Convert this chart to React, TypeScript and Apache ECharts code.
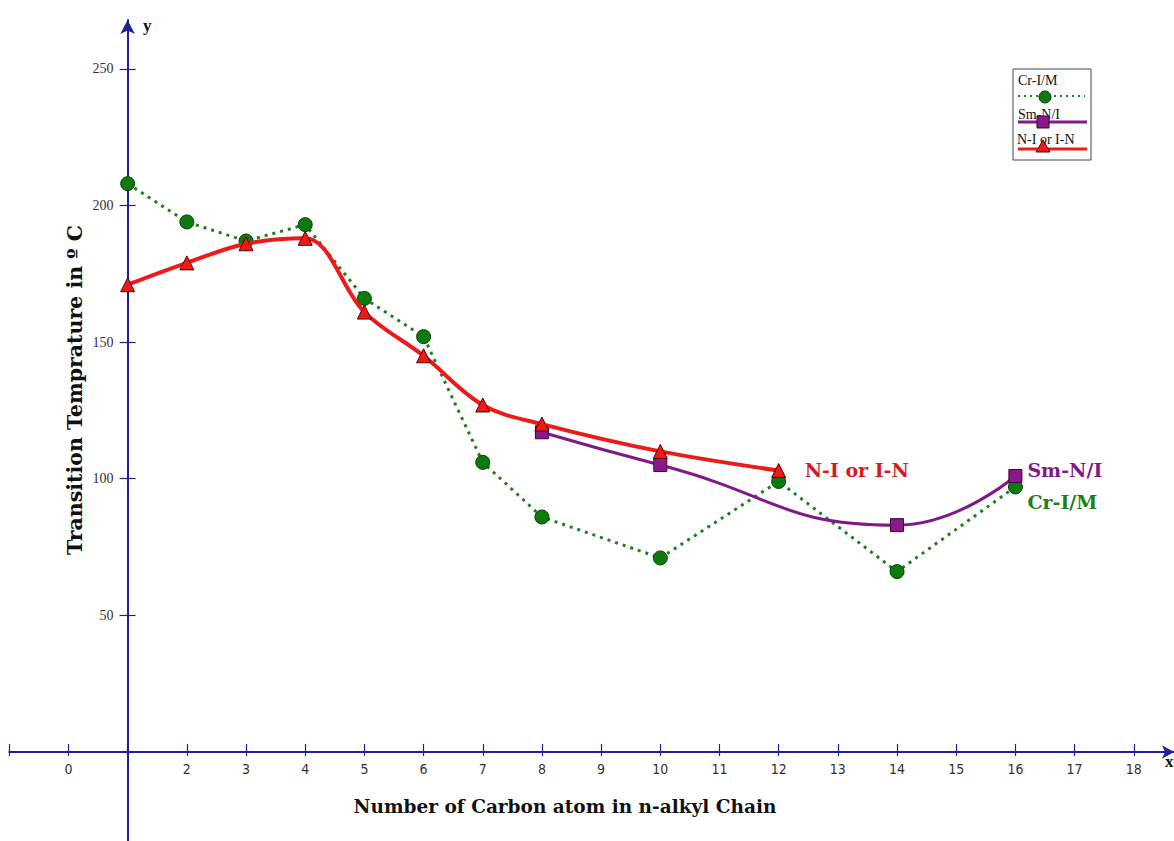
import React, { useEffect, useRef } from "react";
import * as echarts from "echarts";

// ---- data ----
const xTickValues = [-1, 0, 1, 2, 3, 4, 5, 6, 7, 8, 9, 10, 11, 12, 13, 14, 15, 16, 17, 18];
const xLabelValues = [0, 2, 3, 4, 5, 6, 7, 8, 9, 10, 11, 12, 13, 14, 15, 16, 17, 18];
const yTickValues = [50, 100, 150, 200, 250];

const crX = [1, 2, 3, 4, 5, 6, 7, 8, 10, 12, 14, 16];
const crY = [208, 194, 187, 193, 166, 152, 106, 86, 71, 99, 66, 97];

const smX = [8, 10, 14, 16];
const smY = [117, 105, 83, 101];

const niX = [1, 2, 3, 4, 5, 6, 7, 8, 10, 12];
const niY = [171, 179, 186, 188, 161, 145, 127, 120, 110, 103];

const AXIS = "#1f1f99";
const GREEN = "#1d7f1d";
const PURPLE = "#7f1a88";
const RED = "#ee1a1a";
const SERIF = "'DejaVu Serif', 'Liberation Serif', serif";
const LSERIF = "'Liberation Serif', serif";

const pairs = (xs: number[], ys: number[]) => xs.map((x, i) => [x, ys[i]]);

export default function App() {
  const ref = useRef<HTMLDivElement>(null);
  useEffect(() => {
    const chart = echarts.init(ref.current!, null, { renderer: "svg" });
    const xMin = -1, xMax = 18.68, yMin = -32.6, yMax = 267.9;
    const yOffset = -118.3;
    const xOffset = -89;
    const option: any = {
      animation: false,
      backgroundColor: "#ffffff",
      grid: { left: 9.3, right: 0, top: 20, bottom: 0, containLabel: false, outerBoundsMode: "none" },
      xAxis: [
        {
          type: "value", min: xMin, max: xMax, position: "bottom", offset: xOffset,
          axisLine: { show: true, onZero: false, lineStyle: { color: AXIS, width: 2 }, symbol: ["none", "arrow"], symbolSize: [10, 12] },
          axisTick: { show: true, length: 4, lineStyle: { color: AXIS, width: 1.2 }, customValues: xTickValues },
          axisLabel: { show: true, customValues: xLabelValues, margin: 10, color: "#333", fontSize: 14, fontFamily: "'Liberation Sans Narrow', 'DejaVu Sans Condensed', sans-serif" },
          splitLine: { show: false },
        },
        {
          type: "value", min: xMin, max: xMax, position: "bottom", offset: xOffset,
          axisLine: { show: false, onZero: false },
          axisTick: { show: true, inside: true, length: 8, lineStyle: { color: AXIS, width: 1.2 }, customValues: xTickValues },
          axisLabel: { show: false },
          splitLine: { show: false },
        },
      ],
      yAxis: [
        {
          type: "value", min: yMin, max: yMax, position: "left", offset: yOffset,
          axisLine: { show: true, onZero: false, lineStyle: { color: AXIS, width: 2 }, symbol: ["none", "arrow"], symbolSize: [11, 14] },
          axisTick: { show: true, length: 8, lineStyle: { color: AXIS, width: 1.2 }, customValues: yTickValues },
          axisLabel: { show: true, customValues: yTickValues, margin: 14, color: "#333", fontSize: 14, fontFamily: LSERIF },
          splitLine: { show: false },
        },
        {
          type: "value", min: yMin, max: yMax, position: "left", offset: yOffset,
          axisLine: { show: false, onZero: false },
          axisTick: { show: true, inside: true, length: 8, lineStyle: { color: AXIS, width: 1.2 }, customValues: yTickValues },
          axisLabel: { show: false },
          splitLine: { show: false },
        },
      ],
      series: [
        {
          name: "Cr-I/M", type: "line", xAxisIndex: 0, yAxisIndex: 0,
          data: pairs(crX, crY),
          symbol: "circle", symbolSize: 14,
          itemStyle: { color: "#0d7a0d", borderColor: "#0a3d0a", borderWidth: 1 },
          lineStyle: { color: GREEN, width: 3, type: [3, 5] },
          endLabel: { show: true, formatter: "Cr-I/M", color: GREEN, fontSize: 19, fontWeight: "bold", fontFamily: SERIF, distance: 12, offset: [0, 15] },
          z: 2,
        },
        {
          name: "Sm-N/I", type: "line", xAxisIndex: 0, yAxisIndex: 0,
          data: pairs(smX, smY),
          smooth: 0.5,
          symbol: "rect", symbolSize: 13,
          itemStyle: { color: "#8a1a8a", borderColor: "#3a003a", borderWidth: 1 },
          lineStyle: { color: PURPLE, width: 3 },
          endLabel: { show: true, formatter: "Sm-N/I", color: PURPLE, fontSize: 19, fontWeight: "bold", fontFamily: SERIF, distance: 12, offset: [0, -6] },
          z: 3,
        },
        {
          name: "N-I or I-N", type: "line", xAxisIndex: 0, yAxisIndex: 0,
          data: pairs(niX, niY),
          smooth: 0.35,
          symbol: "triangle", symbolSize: 14,
          itemStyle: { color: RED, borderColor: "#5a0000", borderWidth: 1 },
          lineStyle: { color: RED, width: 4 },
          endLabel: { show: true, formatter: "N-I or I-N", color: "#d41c1c", fontSize: 19, fontWeight: "bold", fontFamily: SERIF, distance: 26, offset: [0, -1] },
          z: 4,
        },
      ],
      graphic: [
        { type: "text", left: 143, top: 17, style: { text: "y", fontSize: 17, fontWeight: "bold", fontFamily: LSERIF, fill: "#111" } },
        { type: "text", left: 1165, top: 753, style: { text: "x", fontSize: 17, fontWeight: "bold", fontFamily: LSERIF, fill: "#111" } },
        {
          type: "text", x: 75, y: 390, rotation: Math.PI / 2,
          style: { text: "Transition Temprature in º C", fontSize: 20.5, fontWeight: "bold", fontFamily: SERIF, fill: "#111", align: "center", verticalAlign: "middle" },
        },
        {
          type: "text", x: 565, y: 806,
          style: { text: "Number of Carbon atom in n-alkyl Chain", fontSize: 18.5, fontWeight: "bold", fontFamily: SERIF, fill: "#111", align: "center", verticalAlign: "middle" },
        },
        {
          type: "group", x: 1013, y: 69,
          children: [
            { type: "rect", shape: { x: 0, y: 0, width: 78, height: 91 }, style: { fill: "#fff", stroke: "#444", lineWidth: 1 } },
            { type: "text", x: 5, y: 4, style: { text: "Cr-I/M", fontSize: 14, fontFamily: LSERIF, fill: "#111" } },
            { type: "line", shape: { x1: 5, y1: 27, x2: 72, y2: 27 }, style: { stroke: GREEN, lineWidth: 2, lineDash: [2, 4] } },
            { type: "circle", shape: { cx: 32, cy: 28, r: 6 }, style: { fill: "#0d7a0d", stroke: "#0a3d0a", lineWidth: 1 } },
            { type: "text", x: 5, y: 38, style: { text: "Sm-N/I", fontSize: 14, fontFamily: LSERIF, fill: "#111" } },
            { type: "line", shape: { x1: 5, y1: 53, x2: 74, y2: 53 }, style: { stroke: PURPLE, lineWidth: 3 } },
            { type: "rect", shape: { x: 24, y: 47, width: 12, height: 12 }, style: { fill: "#8a1a8a", stroke: "#3a003a", lineWidth: 1 } },
            { type: "text", x: 4, y: 63, style: { text: "N-I or I-N", fontSize: 14, fontFamily: LSERIF, fill: "#111" } },
            { type: "line", shape: { x1: 5, y1: 80, x2: 74, y2: 80 }, style: { stroke: RED, lineWidth: 3 } },
            { type: "polygon", shape: { points: [[30, 71], [23, 83], [37, 83]] }, style: { fill: RED, stroke: "#5a0000", lineWidth: 1 } },
          ],
        },
      ],
    };
    chart.setOption(option);
    return () => chart.dispose();
  }, []);
  return (
    <div
      ref={ref}
      style={{ position: "absolute", left: 0, top: 0, width: 1174, height: 841, background: "#fff" }}
    />
  );
}
